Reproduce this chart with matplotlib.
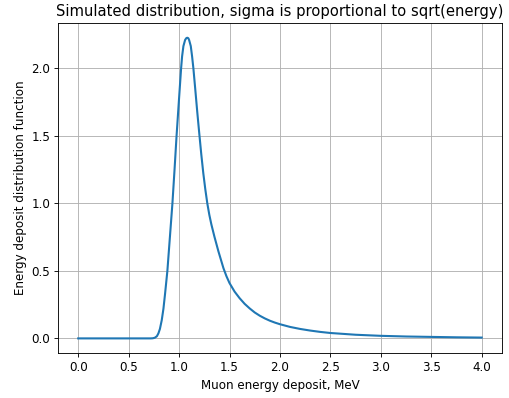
import matplotlib
matplotlib.use("Agg")
import matplotlib.pyplot as plt

energy = [0.0, 0.25, 0.5, 0.72, 0.74, 0.76, 0.78, 0.795, 0.81, 0.828, 0.845, 0.861, 0.884,
          0.91, 0.934, 0.955, 0.975, 1.0, 1.02, 1.03, 1.043, 1.06, 1.072, 1.082, 1.092,
          1.10, 1.116, 1.129, 1.142, 1.16, 1.18, 1.2, 1.22, 1.24, 1.26, 1.28, 1.30, 1.32,
          1.35, 1.39, 1.44, 1.47, 1.5, 1.55, 1.6, 1.65, 1.7, 1.75, 1.8, 1.85, 1.9, 1.95, 2.0,
          2.1, 2.2, 2.3, 2.4, 2.5, 2.75, 3.0, 3.25, 3.5, 3.75, 4.0]
density = [0.0, 0.0, 0.0, 0.0, 0.001, 0.005, 0.016, 0.037, 0.07, 0.134, 0.22, 0.33, 0.5,
           0.76, 1.0, 1.25, 1.5, 1.78, 2.0, 2.09, 2.166, 2.212, 2.225, 2.228, 2.224,
           2.21, 2.166, 2.09, 2.0, 1.85, 1.68, 1.52, 1.365, 1.225, 1.105, 1.0, 0.915, 0.845,
           0.755, 0.645, 0.52, 0.46, 0.41, 0.347, 0.298, 0.256, 0.222, 0.192, 0.168, 0.148, 0.131, 0.117, 0.105,
           0.085, 0.07, 0.058, 0.048, 0.04, 0.027, 0.019, 0.014, 0.011, 0.008, 0.006]

s = 0.795
plt.rcParams.update({
    "font.size": 8.6,
    "axes.linewidth": 0.8 * s,
    "xtick.major.width": 0.8 * s,
    "ytick.major.width": 0.8 * s,
    "xtick.major.size": 3.5 * s,
    "ytick.major.size": 3.5 * s,
    "xtick.major.pad": 3.5 * s,
    "ytick.major.pad": 3.5 * s,
    "grid.linewidth": 0.8 * s,
})

fig = plt.figure(figsize=(5.09, 3.98), dpi=100)
ax = fig.add_axes([0.114, 0.112, 0.872, 0.831])
ax.plot(energy, density, color="#1f77b4", linewidth=1.5)
ax.set_xlabel("Muon energy deposit, MeV", fontsize=8.6, labelpad=4 * s)
ax.set_ylabel("Energy deposit distribution function", fontsize=8.6, labelpad=4 * s)
ax.set_title("Simulated distribution, sigma is proportional to sqrt(energy)", fontsize=10.6, pad=6 * s)
ax.set_xticks([0.0, 0.5, 1.0, 1.5, 2.0, 2.5, 3.0, 3.5, 4.0])
ax.set_yticks([0.0, 0.5, 1.0, 1.5, 2.0])
ax.grid(True)
fig.savefig("out.png", dpi=100)
